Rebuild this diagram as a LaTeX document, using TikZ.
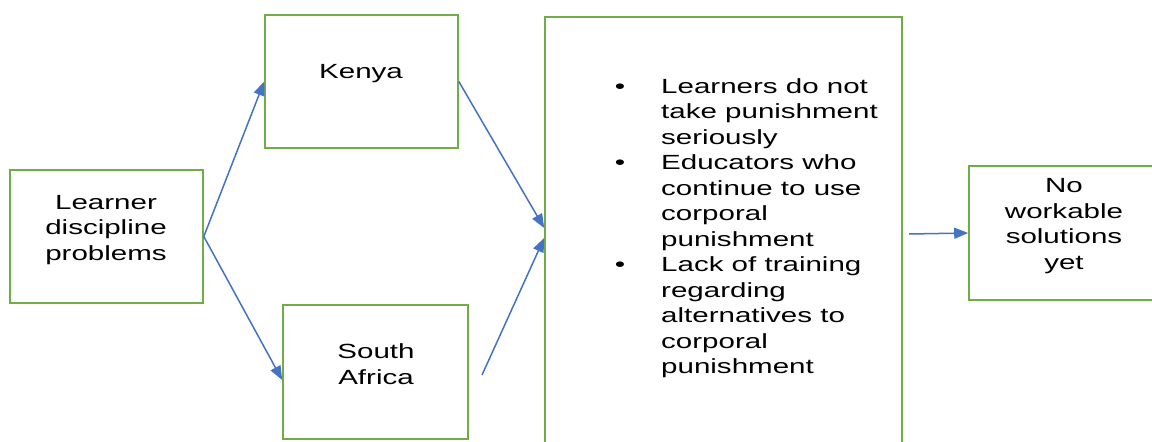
\documentclass[tikz,border=0pt]{standalone}
\usepackage{fontspec}
\setmainfont{Liberation Sans}[FakeStretch=1.44]
\usetikzlibrary{arrows.meta,calc}
\definecolor{boxgreen}{HTML}{70AD47}
\definecolor{arrblue}{HTML}{4472C4}
\begin{document}
\begin{tikzpicture}[x=1pt,y=-1pt,
  box/.style={draw=boxgreen, line width=1.6pt, inner sep=0pt, fill=white},
  txt/.style={inner sep=0pt, align=center, font=\fontsize{20.5}{25.5}\selectfont},
  listtxt/.style={inner sep=0pt, align=left, font=\fontsize{20.5}{25.5}\selectfont},
  arr/.style={draw=arrblue, line width=1.5pt, -{Triangle[length=14pt,width=11pt]}}]
\useasboundingbox (0,0) rectangle (1152,442);
\fill[white] (0,0) rectangle (1152,442);
\clip (0,0) rectangle (1152,442);
% boxes
\node[box, minimum width=193pt, minimum height=133pt] (learner) at (106.5,236.5) {};
\node[box, minimum width=193pt, minimum height=133pt] (kenya) at (361.5,81.5) {};
\node[box, minimum width=185pt, minimum height=134pt] (sa) at (375.5,372) {};
\node[box, minimum width=357pt, minimum height=442pt] (big) at (723.5,238) {};
\node[box, minimum width=190pt, minimum height=134pt] (no) at (1064,233) {};
% texts
\node[txt] (learnerT) at (106,230) {Learner\\discipline\\problems};
\node[txt] (kenyaT) at (361,74) {Kenya};
\node[txt] (saT) at (376,364) {South\\Africa};
\node[txt] (noT) at (1064,226) {No\\workable\\solutions\\yet};
\node[listtxt, anchor=north west] (listT) at (661,78) {%
\llap{•\hspace{36pt}}Learners do not\\
take punishment\\
seriously\\
\llap{•\hspace{36pt}}Educators who\\
continue to use\\
corporal\\
punishment\\
\llap{•\hspace{36pt}}Lack of training\\
regarding\\
alternatives to\\
corporal\\
punishment};
% connectors
\coordinate (saout) at (482,375);
\coordinate (bigout) at (909,234);
\draw[arr] (learner.east) -- (kenya.west);
\draw[arr] (learner.east) -- ([yshift=-8pt]sa.west);
\draw[arr] (kenya.east) -- ([yshift=10pt]big.west);
\draw[arr] (saout) -- (big.west);
\draw[arr] (bigout) -- (no.west);
\end{tikzpicture}
\end{document}
